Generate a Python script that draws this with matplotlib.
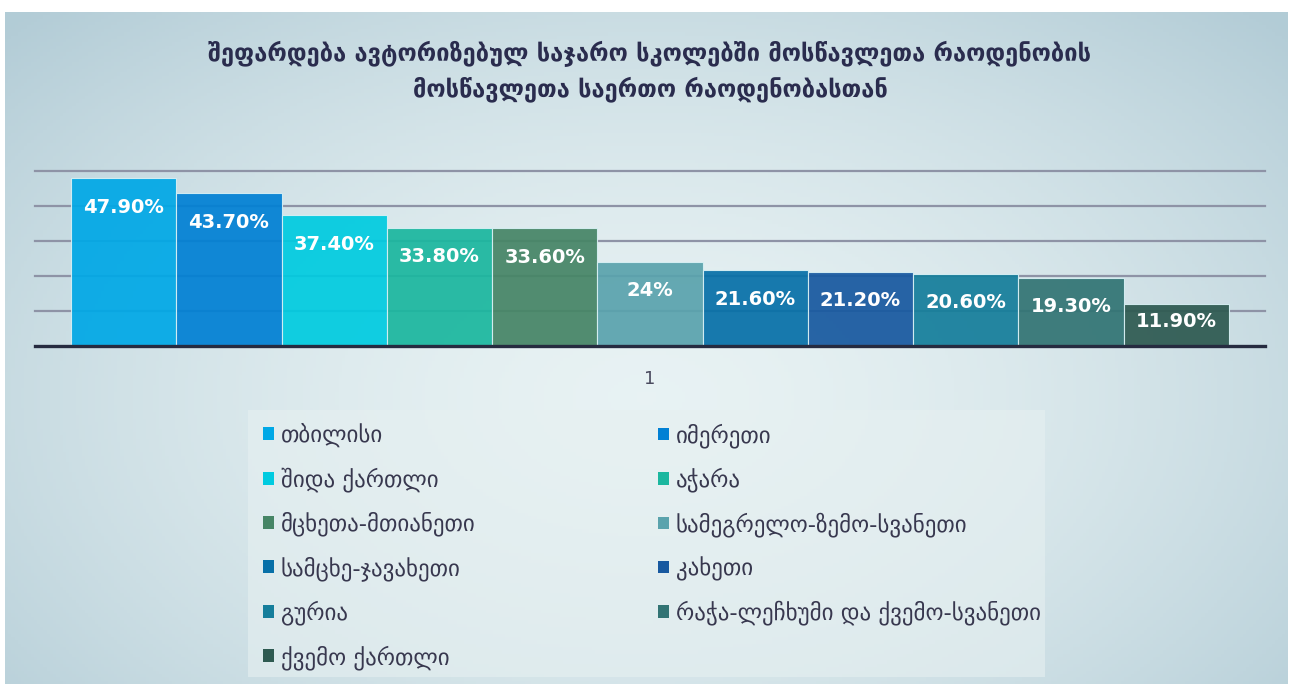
import matplotlib.pyplot as plt
from matplotlib.patches import Rectangle
import numpy as np

plt.rcParams['font.family'] = ['DejaVu Sans']

TITLE = "შეფარდება ავტორიზებულ საჯარო სკოლებში მოსწავლეთა რაოდენობის\nმოსწავლეთა საერთო რაოდენობასთან"

regions = ["თბილისი", "იმერეთი", "შიდა ქართლი", "აჭარა", "მცხეთა-მთიანეთი",
           "სამეგრელო-ზემო-სვანეთი", "სამცხე-ჯავახეთი", "კახეთი", "გურია",
           "რაჭა-ლეჩხუმი და ქვემო-სვანეთი", "ქვემო ქართლი"]
shares = [47.9, 43.7, 37.4, 33.8, 33.6, 24.0, 21.6, 21.2, 20.6, 19.3, 11.9]
share_labels = ["47.90%", "43.70%", "37.40%", "33.80%", "33.60%", "24%",
                "21.60%", "21.20%", "20.60%", "19.30%", "11.90%"]
category = ["1"]
colors = ["#00a8e6", "#0180d4", "#00cbe0", "#1bb79f", "#468566", "#5aa3ad",
          "#0770a8", "#1859a0", "#157e9b", "#327474", "#2e5a51"]

W, H = 1294, 684
fig = plt.figure(figsize=(W / 100, H / 100), dpi=100)
fig.patch.set_facecolor("white")

# background panel with a soft radial gradient
bg = fig.add_axes([5 / W, 0, (1288 - 5) / W, (H - 12) / H])
yy, xx = np.mgrid[-1:1:200j, -1:1:400j]
r = np.clip(np.sqrt((xx * 0.95) ** 2 + ((yy - 0.15) * 0.8) ** 2), 0, 1.3)
c_in = np.array([0.91, 0.95, 0.955])
c_out = np.array([0.70, 0.80, 0.84])
t = (r / 1.3) ** 1.6
grad = c_in[None, None, :] * (1 - t[..., None]) + c_out[None, None, :] * t[..., None]
bg.imshow(grad, aspect="auto", extent=[0, 1, 0, 1])
bg.set_axis_off()

# title
fig.text(650 / W, 1 - 71 / H, TITLE, ha="center", va="center", fontsize=17,
         fontweight="bold", color="#2a2c4e", linespacing=1.45)

# bar axes
ax = fig.add_axes([35 / W, 1 - 346 / H, 1230 / W, (346 - 171) / H])
ax.patch.set_alpha(0)
n = len(shares)
group = 1158 / 1230
bw = group / n
xs = -group / 2 + bw * (np.arange(n) + 0.5)
bars = ax.bar(xs, shares, width=bw, color=colors, edgecolor="#d8f0f4",
              linewidth=0.8, alpha=0.93, zorder=3)
px_per_unit = (346 - 171) / 50
for x, v, lab in zip(xs, shares, share_labels):
    off = min(29, 0.42 * v * px_per_unit)
    ax.annotate(lab, (x, v), xytext=(0, -off * 0.72), textcoords="offset points",
                ha="center", va="center", color="white", fontsize=14,
                fontweight="bold", zorder=5)

ax.set_xlim(-0.5, 0.5)
ax.set_ylim(0, 50)
ax.set_yticks([10, 20, 30, 40, 50])
ax.yaxis.grid(True, color="#8e93a6", linewidth=1.6, zorder=0)
for gl in ax.get_ygridlines():
    gl.set_clip_on(False)
ax.set_axisbelow(True)
ax.tick_params(axis="y", left=False, labelleft=False)
ax.set_xticks([0])
ax.set_xticklabels(category, fontsize=13, color="#4a4a5e")
ax.tick_params(axis="x", length=0, pad=17)
for s in ["top", "right", "left"]:
    ax.spines[s].set_visible(False)
ax.spines["bottom"].set_color("#262b40")
ax.spines["bottom"].set_linewidth(2.4)
ax.spines["bottom"].set_zorder(4)

# legend background box
fig.patches.append(Rectangle((248 / W, 1 - 677 / H), 797 / W, (677 - 410) / H,
                             transform=fig.transFigure, facecolor="#e6f0f1",
                             alpha=0.6, edgecolor="none", zorder=1))

# legend: two columns, filled row by row
col_x = [263, 658]
for c in range(2):
    idx = list(range(c, n, 2))
    leg = fig.legend([bars[i] for i in idx], [regions[i] for i in idx],
                     loc="upper left", bbox_to_anchor=(col_x[c] / W, 1 - 423 / H),
                     fontsize=16.5, frameon=False, handlelength=0.48,
                     handleheight=0.48, handletextpad=0.3, labelspacing=0.86,
                     borderpad=0, borderaxespad=0, labelcolor="#38384f")
    for h in leg.legend_handles:
        h.set_alpha(1)
        h.set_edgecolor("none")

fig.savefig("out.png", dpi=100)
